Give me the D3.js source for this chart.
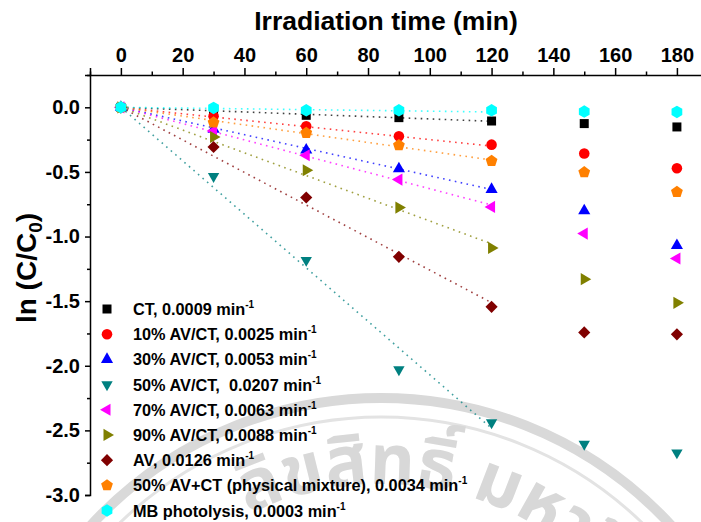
<!DOCTYPE html>
<html>
<head>
<meta charset="utf-8">
<script src="https://cdn.jsdelivr.net/npm/d3@7"></script>
<style>
  body { margin: 0; background: #fff; }
  svg { display: block; }
  .lbl { font-family: "Liberation Sans", Arial, sans-serif; font-weight: bold; fill: #000; }
</style>
</head>
<body>
<svg id="chart" width="701" height="522"></svg>
<script>
// Irradiation times (min)
const times = [0, 30, 60, 90, 120, 150, 180];

// ln(C/C0) for each photocatalyst
const ctVals    = [0, -0.030, -0.062, -0.080, -0.106, -0.126, -0.152];
const av10Vals  = [0, -0.070, -0.147, -0.224, -0.289, -0.358, -0.472];
const av30Vals  = [0, -0.170, -0.330, -0.475, -0.635, -0.800, -1.070];
const av50Vals  = [0, -0.534, -1.183, -2.030, -2.440, -2.606, -2.673];
const av70Vals  = [0, -0.183, -0.371, -0.559, -0.771, -0.977, -1.170];
const av90Vals  = [0, -0.230, -0.487, -0.776, -1.088, -1.330, -1.513];
const avVals    = [0, -0.307, -0.698, -1.157, -1.544, -1.742, -1.757];
const mixVals   = [0, -0.118, -0.199, -0.294, -0.415, -0.503, -0.655];
const mbVals    = [0, -0.005, -0.023, -0.023, -0.023, -0.033, -0.036];

// Legend names and apparent first-order rate constants (min^-1)
const seriesNames = ["CT, ", "10% AV/CT, ", "30% AV/CT, ", "50% AV/CT,  ", "70% AV/CT, ",
                     "90% AV/CT, ", "AV, ", "50% AV+CT (physical mixture), ", "MB photolysis, "];
const rateConstants = [0.0009, 0.0025, 0.0053, 0.0207, 0.0063, 0.0088, 0.0126, 0.0034, 0.0003];
const fitEnd = 120; // fitted lines cover 0–120 min

const seriesColors = ["#000000", "#ff0000", "#0000ff", "#008080", "#ff00ff",
                      "#808000", "#800000", "#ff8000", "#00ffff"];
const seriesShapes = ["square", "circle", "up", "down", "left", "right", "diamond", "pentagon", "hexagon"];

const xTicks = [0, 20, 40, 60, 80, 100, 120, 140, 160, 180];
const yTicks = [0, -0.5, -1.0, -1.5, -2.0, -2.5, -3.0];

const allVals = [ctVals, av10Vals, av30Vals, av50Vals, av70Vals, av90Vals, avVals, mixVals, mbVals];

const svg = d3.select("#chart");

// Scales
const x = d3.scaleLinear().domain([-10, 190]).range([90, 707.8]);
const y = d3.scaleLinear().domain([-3.0, 0.25]).range([495, 75]);

// ---- faint seal in the background ----
const seal = svg.append("g").attr("class", "seal");
const cx = 381, cy = 792;
seal.append("circle").attr("cx", cx).attr("cy", cy).attr("r", 394)
  .attr("fill", "none").attr("stroke", "#d9d9d9").attr("stroke-width", 10);
seal.append("circle").attr("cx", cx).attr("cy", cy).attr("r", 375)
  .attr("fill", "none").attr("stroke", "#e3e3e3").attr("stroke-width", 3);
const tr = 308;
seal.append("path").attr("id", "sealArc")
  .attr("d", `M${cx - tr},${cy} A${tr},${tr} 0 0 1 ${cx + tr},${cy}`)
  .attr("fill", "none");
seal.append("text")
  .style("font-family", '"Noto Sans Thai", "Noto Sans Thai UI", "Noto Sans", "DejaVu Sans", sans-serif')
  .style("font-size", "70px").style("font-weight", "bold")
  .style("white-space", "pre")
  .attr("fill", "#d8d8d8")
  .append("textPath").attr("href", "#sealArc").attr("startOffset", "35.8%")
  .text("ลิขสิทธิ์ มหาวิทยาลัยเชียงใหม่");

// ---- axes ----
const fmt1 = d => d.toFixed(1);
const xAxis = d3.axisTop(x).tickValues(xTicks).tickSize(7).tickPadding(6).tickFormat(d => String(d));
const xMinor = d3.axisTop(x).tickValues(d3.range(-10, 200, 20)).tickSize(3.5);
const yAxis = d3.axisLeft(y).tickValues(yTicks).tickSize(5).tickPadding(5).tickFormat(fmt1);
const yMinor = d3.axisLeft(y).tickValues([0.25, -0.25, -0.75, -1.25, -1.75, -2.25, -2.75]).tickSize(3);

function styleAxis(g) {
  g.select(".domain").attr("stroke", "#000").attr("stroke-width", 1.5);
  g.selectAll(".tick line").attr("stroke", "#000").attr("stroke-width", 1.5);
  g.selectAll(".tick text").attr("class", "lbl").style("font-size", "20px").attr("fill", "#000");
}
function minorOnly(g) {
  g.selectAll(".tick text").remove();
  g.select(".domain").remove();
}

svg.append("g").attr("transform", `translate(0,${y(0.25)})`).call(xMinor).call(styleAxis).call(minorOnly);
svg.append("g").attr("transform", `translate(0,${y(0.25)})`).call(xAxis).call(styleAxis);
svg.append("g").attr("transform", `translate(${x(-10)},0)`).call(yMinor).call(styleAxis).call(minorOnly);
svg.append("g").attr("transform", `translate(${x(-10)},0)`).call(yAxis).call(styleAxis);

// Axis titles
svg.append("text").attr("class", "lbl")
  .attr("x", 386).attr("y", 30).attr("text-anchor", "middle")
  .style("font-size", "26.5px")
  .text("Irradiation time (min)");

const yTitle = svg.append("text").attr("class", "lbl")
  .attr("transform", "translate(36,268) rotate(-90)")
  .attr("text-anchor", "middle")
  .style("font-size", "28px");
yTitle.append("tspan").text("ln (C/C");
yTitle.append("tspan").attr("dy", 6).style("font-size", "19px").text("0");
yTitle.append("tspan").attr("dy", -6).text(")");

// ---- marker shapes ----
function polygon(n, r, rot) {
  const pts = d3.range(n).map(i => {
    const a = rot + i * 2 * Math.PI / n;
    return [r * Math.cos(a), r * Math.sin(a)];
  });
  return "M" + pts.map(p => p.join(",")).join("L") + "Z";
}
function markerPath(shape) {
  switch (shape) {
    case "square":   return d3.symbol(d3.symbolSquare, 81)();
    case "circle":   return d3.symbol(d3.symbolCircle, 88)();
    case "up":       return d3.symbol(d3.symbolTriangle, 64)();
    case "down":     return d3.symbol(d3.symbolTriangle, 56)();
    case "left":     return d3.symbol(d3.symbolTriangle, 64)();
    case "right":    return d3.symbol(d3.symbolTriangle, 64)();
    case "diamond":  return d3.symbol(d3.symbolSquare, 74)();
    case "pentagon": return polygon(5, 6.2, -Math.PI / 2);
    case "hexagon":  return polygon(6, 6.2, -Math.PI / 2);
  }
}
const shapeRotation = { square: 0, circle: 0, up: 0, down: 180, left: -90, right: 90,
                        diamond: 45, pentagon: 0, hexagon: 0 };

// ---- fitted first-order lines (0–120 min) ----
const line = d3.line().x(d => x(d[0])).y(d => y(d[1]));
rateConstants.forEach((k, i) => {
  svg.append("path")
    .datum([[0, 0], [fitEnd, -k * fitEnd]])
    .attr("d", line)
    .attr("fill", "none")
    .attr("stroke", seriesColors[i])
    .attr("stroke-width", 1.6)
    .attr("stroke-dasharray", "1.6,4.4")
    .attr("opacity", 0.75);
});

// ---- data markers ----
allVals.forEach((vals, i) => {
  const shape = seriesShapes[i];
  svg.append("g").selectAll("path")
    .data(times.map((t, j) => [t, vals[j]]))
    .join("path")
    .attr("d", markerPath(shape))
    .attr("transform", d => `translate(${x(d[0])},${y(d[1])}) rotate(${shapeRotation[shape]})`)
    .attr("fill", seriesColors[i]);
});

// ---- legend ----
const legend = svg.append("g");
const legY0 = 309, legStep = 25.19;
seriesNames.forEach((name, i) => {
  const cyL = legY0 + i * legStep;
  const shape = seriesShapes[i];
  legend.append("path")
    .attr("d", markerPath(shape))
    .attr("transform", `translate(107,${cyL}) rotate(${shapeRotation[shape]})`)
    .attr("fill", seriesColors[i]);
  const t = legend.append("text").attr("class", "lbl")
    .attr("x", 133).attr("y", cyL + 6)
    .style("font-size", "16.3px")
    .style("white-space", "pre");
  t.append("tspan").text(name + rateConstants[i].toFixed(4) + " min");
  t.append("tspan").attr("dy", -7).style("font-size", "10px").text("-1");
});
</script>
</body>
</html>
